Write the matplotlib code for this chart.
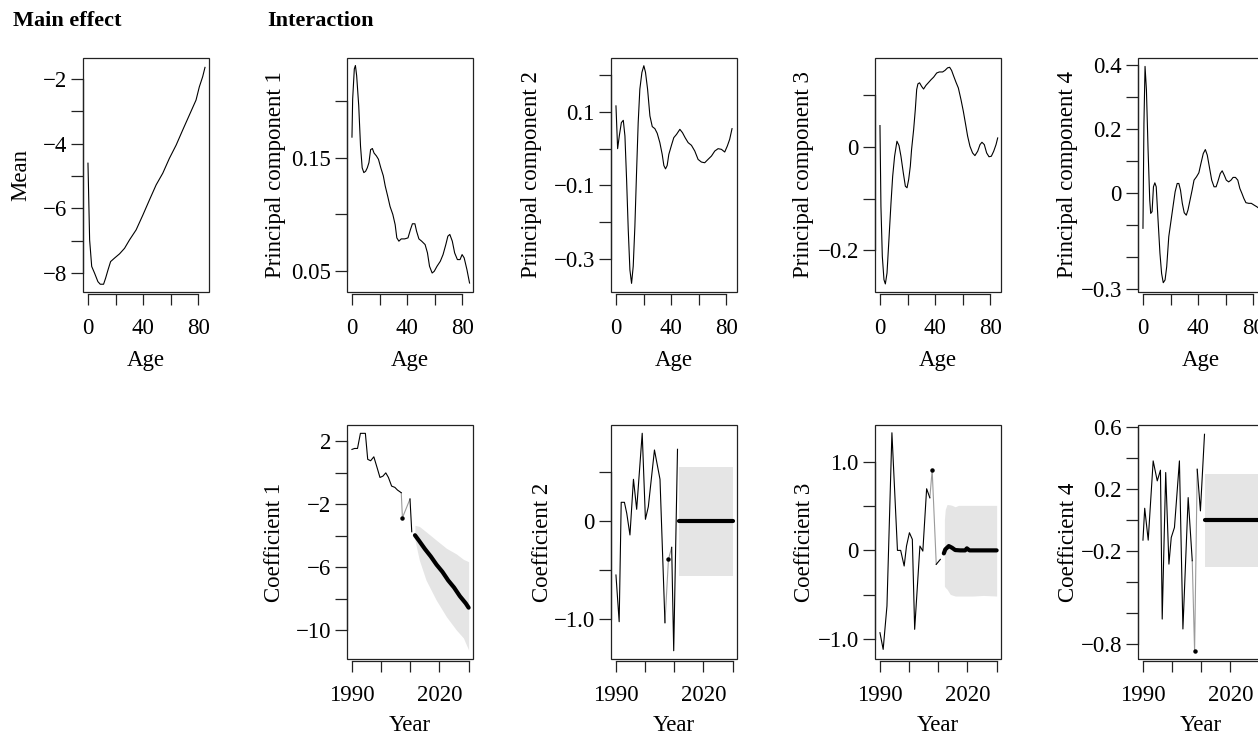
import matplotlib
matplotlib.use("Agg")
import matplotlib.pyplot as plt
from matplotlib.patches import Rectangle

# ------------------------------------------------------------
# Data
# ------------------------------------------------------------
# Main effect (mean log rate by age)
age_mean = [0, 1.2, 2.7, 4.8, 7.2, 8.9, 11.3, 12.8, 14.5, 16.4, 19.3, 22.9, 26.5, 30.1,
            34.9, 39.8, 44.6, 49.4, 54.2, 59.0, 63.9, 68.7, 73.5, 78.3, 80.7, 83.1, 84.8]
mean = [-4.60, -6.97, -7.79, -8.00, -8.26, -8.34, -8.34, -8.15, -7.90, -7.64, -7.53, -7.40,
        -7.23, -6.97, -6.66, -6.20, -5.73, -5.27, -4.91, -4.45, -4.04, -3.57, -3.11, -2.65,
        -2.24, -1.93, -1.64]

# Principal components
age_pc1 = [0, 0.5, 1.7, 2.5, 3.4, 4.9, 6.2, 7.4, 8.6, 9.9, 11.1, 12.3, 13.5, 14.8, 16, 17.7,
           19.2, 20.9, 22.7, 24.1, 25.9, 27.6, 29.6, 31.3, 32.5, 34, 35.7, 38.2, 40.6, 42.4,
           43.8, 45.6, 46.8, 48.5, 50.5, 53, 54.7, 56.2, 58.1, 59.6, 61.6, 64, 66, 68, 69.5,
           70.9, 72.7, 74.4, 76.4, 78.3, 79.8, 81.3, 83.3, 85.2]
pc1 = [0.168, 0.2015, 0.228, 0.231, 0.222, 0.1956, 0.160, 0.141, 0.1368, 0.138, 0.141, 0.1456,
       0.157, 0.158, 0.154, 0.1515, 0.1485, 0.141, 0.134, 0.125, 0.116, 0.107, 0.100, 0.091,
       0.0794, 0.0765, 0.0785, 0.0785, 0.0794, 0.0868, 0.0918, 0.0918, 0.0853, 0.0785, 0.0765,
       0.0735, 0.0662, 0.0544, 0.0485, 0.050, 0.0544, 0.0588, 0.0647, 0.0735, 0.0809, 0.0824,
       0.0765, 0.0662, 0.0603, 0.0603, 0.0647, 0.0618, 0.0515, 0.0397]

age_pc2 = [0, 1.2, 2.4, 3.9, 5.3, 6.5, 7.7, 8.9, 10.1, 11.3, 12.5, 13.7, 14.9, 16.1, 17.3,
           18.8, 20.2, 21.4, 22.9, 24.6, 26.3, 28.2, 29.9, 31.8, 33.5, 34.7, 35.9, 37.1, 38.3,
           40.2, 41.9, 43.9, 46.3, 48.2, 50.1, 52.3, 54.7, 57.1, 59.5, 61.9, 64.3, 66.7, 69.2,
           71.6, 74, 76.4, 78.8, 80.7, 82.4, 84.1]
pc2 = [0.1164, 0.0, 0.0344, 0.0708, 0.0772, 0.0344, -0.0845, -0.221, -0.330, -0.3665, -0.320,
       -0.2116, -0.0662, 0.0708, 0.162, 0.2075, 0.2257, 0.2075, 0.162, 0.089, 0.060, 0.0544,
       0.0417, 0.0164, -0.0155, -0.0458, -0.0549, -0.0458, -0.0155, 0.0091, 0.030, 0.039,
       0.0526, 0.0435, 0.030, 0.0164, 0.0091, -0.0064, -0.0292, -0.0364, -0.0383, -0.0292,
       -0.020, -0.0064, 0.0, -0.0018, -0.0091, 0.0073, 0.0255, 0.0545]

age_pc3 = [0, 0.7, 1.7, 2.9, 3.9, 5.1, 6.5, 8.0, 9.2, 10.6, 12.3, 13.8, 15.2, 16.9, 18.4, 19.6,
           20.8, 22, 22.9, 24.4, 25.6, 26.6, 27.5, 28.7, 30.2, 31.6, 33.3, 35, 37, 38.9, 41.1,
           43, 45.4, 47.1, 49, 50.5, 51.9, 53.4, 55.1, 56.8, 58.7, 60.4, 62.1, 63.5, 65.2, 67.1,
           68.8, 70.8, 72.5, 73.9, 75.6, 77.3, 79, 80.7, 82.4, 84.1, 85.3]
pc3 = [0.0413, -0.115, -0.2116, -0.2568, -0.265, -0.244, -0.179, -0.108, -0.057, -0.018, 0.011,
       0.0026, -0.018, -0.050, -0.076, -0.079, -0.063, -0.037, -0.005, 0.0335, 0.072, 0.111,
       0.122, 0.124, 0.117, 0.112, 0.119, 0.124, 0.130, 0.135, 0.143, 0.145, 0.145, 0.148,
       0.153, 0.154, 0.148, 0.137, 0.125, 0.114, 0.0916, 0.069, 0.043, 0.021, 0.0013, -0.0116,
       -0.0168, -0.0084, 0.0045, 0.009, 0.0045, -0.0116, -0.019, -0.018, -0.0084, 0.0045, 0.0174]

age_pc4 = [0, 0.7, 1.5, 2.5, 3.7, 4.9, 5.6, 6.6, 7.6, 8.6, 9.6, 10.8, 12.3, 13.5, 14.7, 16,
           17.2, 18.7, 20.4, 22.1, 23.3, 24.8, 26, 27.2, 28.5, 29.9, 31.4, 32.6, 34.1, 35.6, 37,
           38.8, 40.5, 42, 43.7, 45.2, 46.6, 48.1, 49.8, 51.5, 53, 54.2, 56, 57.4, 58.9, 60.4,
           62.1, 63.8, 65.3, 67, 68.7, 70.2, 71.7, 73.1, 74.6, 76.6, 78.5, 80.5, 82.5, 84.2, 85.4]
pc4 = [-0.111, 0.2156, 0.3948, 0.322, 0.134, -0.023, -0.0645, -0.059, 0.0187, 0.031, 0.0187,
       -0.075, -0.189, -0.252, -0.281, -0.2725, -0.231, -0.137, -0.085, -0.033, 0.003, 0.029,
       0.029, 0.008, -0.033, -0.0625, -0.070, -0.054, -0.023, 0.008, 0.0395, 0.050, 0.0624,
       0.0915, 0.1227, 0.135, 0.1175, 0.081, 0.0395, 0.0187, 0.0187, 0.034, 0.060, 0.0686,
       0.055, 0.0395, 0.034, 0.0395, 0.048, 0.048, 0.0395, 0.0135, -0.002, -0.0177, -0.031,
       -0.033, -0.033, -0.0385, -0.0437, -0.049, -0.059]

# Coefficients: history (one outlying year drawn in grey), forecast, interval
yr_c1 = [1990, 1990.9, 1991.9, 1992.9, 1994.6, 1995.4, 1996.4, 1997.5, 1998.7, 1999.6, 2000.6,
         2001.6, 2002.5, 2003.6, 2004.7, 2005.6, 2006.9, 2007.3, 2009.9, 2010.5]
c1 = [1.47, 1.53, 1.53, 2.49, 2.49, 0.84, 0.75, 1.0, 0.26, -0.31, -0.23, -0.02, -0.31, -0.86,
      -0.94, -1.11, -1.28, -2.87, -1.68, -3.76]
fc_yr_c1 = [2011.6, 2013, 2015, 2017, 2019, 2021, 2023, 2025, 2027, 2029, 2030]
fc_c1 = [-3.98, -4.33, -4.85, -5.32, -5.85, -6.30, -6.85, -7.30, -7.85, -8.30, -8.58]
pi_yr_c1 = [2011.6, 2013.1, 2015.4, 2018.9, 2022.4, 2025.8, 2028.2, 2030]
pi_hi_c1 = [-3.35, -3.42, -3.76, -4.29, -4.81, -5.17, -5.51, -5.66]
pi_lo_c1 = [-4.29, -5.56, -6.83, -8.1, -9.16, -10.0, -10.5, -11.27]

yr_c2 = [1990, 1991.1, 1991.8, 1992.9, 1993.7, 1994.8, 1996.0, 1997.1, 1999.0, 2000.1, 2001.1,
         2003.2, 2005.1, 2006.8, 2008.0, 2009.1, 2009.8, 2011.1]
c2 = [-0.549, -1.024, 0.19, 0.19, 0.078, -0.142, 0.424, 0.119, 0.892, 0.017, 0.146, 0.722,
      0.424, -1.034, -0.39, -0.268, -1.319, 0.729]
fc_yr_c2 = [2011.6, 2015, 2020, 2025, 2030]
fc_c2 = [0.0, 0.0, 0.0, 0.0, 0.0]
pi_yr_c2 = [2011.6, 2030]
pi_hi_c2 = [0.546, 0.546]
pi_lo_c2 = [-0.556, -0.556]

yr_c3 = [1990, 1991.1, 1992.4, 1994.1, 1996.0, 1997.1, 1998.3, 1999.1, 2000.1, 2001.1, 2001.9,
         2003.7, 2004.7, 2006.0, 2007.1, 2007.9, 2009.3, 2010.7]
c3 = [-0.932, -1.121, -0.63, 1.332, 0.0, 0.0, -0.177, 0.049, 0.2, 0.125, -0.894, 0.049, -0.008,
      0.698, 0.596, 0.909, -0.158, -0.102]
fc_yr_c3 = [2011.9, 2012.4, 2013.6, 2014.7, 2015.8, 2017.5, 2019.2, 2019.8, 2020.7, 2030]
fc_c3 = [-0.034, 0.011, 0.049, 0.03, 0.004, 0.0, 0.0, 0.023, 0.0, 0.0]
pi_yr_c3 = [2012.1, 2012.4, 2013.0, 2014.1, 2014.7, 2015.8, 2016.9, 2022.0, 2025.4, 2030]
pi_hi_c3 = [0.351, 0.464, 0.52, 0.515, 0.51, 0.494, 0.51, 0.51, 0.51, 0.51]
pi_lo_c3 = [-0.404, -0.42, -0.44, -0.498, -0.505, -0.517, -0.517, -0.517, -0.51, -0.517]

yr_c4 = [1990, 1990.6, 1991.8, 1993.5, 1994.9, 1996.0, 1996.6, 1997.8, 1998.9, 1999.7, 2000.8,
         2002.5, 2003.7, 2005.5, 2006.9, 2007.7, 2008.6, 2009.7, 2011.1]
c4 = [-0.129, 0.077, -0.129, 0.383, 0.254, 0.323, -0.639, 0.308, -0.284, -0.112, -0.047, 0.383,
      -0.703, 0.146, -0.262, -0.847, 0.329, 0.060, 0.555]
fc_yr_c4 = [2011.4, 2015, 2020, 2025, 2030]
fc_c4 = [0.0, 0.0, 0.0, 0.0, 0.0]
pi_yr_c4 = [2011.4, 2030]
pi_hi_c4 = [0.301, 0.301]
pi_lo_c4 = [-0.305, -0.305]

# index of the outlying (grey) year in each coefficient series
grey_idx = [17, 14, 15, 15]

# ------------------------------------------------------------
# Layout / style
# ------------------------------------------------------------
W, H = 1258, 734
plt.rcParams["font.family"] = ["Liberation Serif", "DejaVu Serif"]
plt.rcParams["font.size"] = 16.5
MINUS = "\u2212"
AX_COL = "#222222"
BAND = "#e5e5e5"
GREY_SEG = "#9a9a9a"

BOX_W, BOX_H = 126, 234
COL_LEFT = [83, 347, 611, 875, 1138]
TOP_ROW, BOT_ROW = 58, 425

fig = plt.figure(figsize=(W / 100, H / 100), dpi=100)


def lab(v, dec):
    if abs(v) < 1e-12:
        return "0"
    s = f"{abs(v):.{dec}f}" if dec > 0 else f"{abs(v):.0f}"
    return (MINUS if v < 0 else "") + s


def make_axes(col, top, xlim, ylim, xticks, xshow, yticks, yshow, ydec):
    ax = fig.add_axes([COL_LEFT[col] / W, 1 - (top + BOX_H) / H, BOX_W / W, BOX_H / H])
    ax.set_xlim(xlim)
    ax.set_ylim(ylim)
    ax.spines["top"].set_visible(False)
    ax.spines["right"].set_visible(False)
    ax.spines["left"].set_bounds(yticks[0], yticks[-1])
    ax.spines["bottom"].set_position(("outward", 1.5))
    ax.spines["bottom"].set_bounds(xticks[0], xticks[-1])
    for s in ("left", "bottom"):
        ax.spines[s].set_linewidth(0.9)
        ax.spines[s].set_color(AX_COL)
    ax.add_patch(Rectangle((0, 0), 1, 1, transform=ax.transAxes, fill=False,
                           lw=0.9, ec=AX_COL, clip_on=False, zorder=5))
    ax.set_xticks(xticks)
    ax.set_xticklabels([str(v) if v in xshow else "" for v in xticks])
    ax.set_yticks(yticks)
    ax.set_yticklabels([lab(v, ydec) if any(abs(v - s) < 1e-9 for s in yshow) else ""
                        for v in yticks])
    ax.tick_params(axis="x", length=7.8, width=0.9, color=AX_COL, pad=9.5)
    ax.tick_params(axis="y", length=8.4, width=0.9, color=AX_COL, pad=3.2)
    ax.patch.set_visible(False)
    return ax


def ylab(x_px, top, text):
    fig.text(x_px / W, 1 - (top + BOX_H / 2) / H, text, rotation=90,
             ha="center", va="center")


def xlab(col, y_px, text):
    fig.text((COL_LEFT[col] + BOX_W / 2) / W, 1 - y_px / H, text,
             ha="center", va="baseline")


# headers
fig.text(13 / W, 1 - 26 / H, "Main effect", fontweight="bold", va="baseline", fontsize=16)
fig.text(267 / W, 1 - 26 / H, "Interaction", fontweight="bold", va="baseline", fontsize=16)

# ---------------- top row ----------------
age_xlim = (-3.6, 87.7)
age_ticks = [0, 20, 40, 60, 80]
age_show = [0, 40, 80]

top_specs = [
    (age_mean, mean, (-8.58, -1.35), [-8, -7, -6, -5, -4, -3, -2], [-8, -6, -4, -2], 0,
     21, "Mean"),
    (age_pc1, pc1, (0.0318, 0.2376), [0.05, 0.10, 0.15, 0.20], [0.05, 0.15], 2,
     276, "Principal component 1"),
    (age_pc2, pc2, (-0.390, 0.2467), [-0.3, -0.2, -0.1, 0.0, 0.1, 0.2], [-0.3, -0.1, 0.1], 1,
     532, "Principal component 2"),
    (age_pc3, pc3, (-0.2806, 0.172), [-0.2, -0.1, 0.0, 0.1], [-0.2, 0.0], 1,
     803, "Principal component 3"),
    (age_pc4, pc4, (-0.31, 0.421), [-0.3, -0.2, -0.1, 0.0, 0.1, 0.2, 0.3, 0.4],
     [-0.3, 0.0, 0.2, 0.4], 1, 1067, "Principal component 4"),
]

for col, (xs, ys, ylim, yt, ys_show, dec, lx, text) in enumerate(top_specs):
    ax = make_axes(col, TOP_ROW, age_xlim, ylim, age_ticks, age_show, yt, ys_show, dec)
    ax.plot(xs, ys, color="black", lw=0.8)
    ylab(lx, TOP_ROW, text)
    xlab(col, 366, "Age")

# ---------------- bottom row ----------------
yr_xlim = (1988.3, 2031.5)
yr_ticks = [1990, 2000, 2010, 2020, 2030]
yr_show = [1990, 2020]

bot_specs = [
    (yr_c1, c1, fc_yr_c1, fc_c1, pi_yr_c1, pi_hi_c1, pi_lo_c1, (-11.84, 3.02),
     [-10, -8, -6, -4, -2, 0, 2], [-10, -6, -2, 2], 0, 275, "Coefficient 1"),
    (yr_c2, c2, fc_yr_c2, fc_c2, pi_yr_c2, pi_hi_c2, pi_lo_c2, (-1.403, 0.976),
     [-1.0, -0.5, 0.0, 0.5], [-1.0, 0.0], 1, 543, "Coefficient 2"),
    (yr_c3, c3, fc_yr_c3, fc_c3, pi_yr_c3, pi_hi_c3, pi_lo_c3, (-1.23, 1.42),
     [-1.0, -0.5, 0.0, 0.5, 1.0], [-1.0, 0.0, 1.0], 1, 804, "Coefficient 3"),
    (yr_c4, c4, fc_yr_c4, fc_c4, pi_yr_c4, pi_hi_c4, pi_lo_c4, (-0.897, 0.615),
     [-0.8, -0.6, -0.4, -0.2, 0.0, 0.2, 0.4, 0.6], [-0.8, -0.2, 0.2, 0.6], 1,
     1068, "Coefficient 4"),
]

for i, (hx, hy, fx, fy, px, phi, plo, ylim, yt, ys_show, dec, lx, text) in enumerate(bot_specs):
    col = i + 1
    ax = make_axes(col, BOT_ROW, yr_xlim, ylim, yr_ticks, yr_show, yt, ys_show, dec)
    ax.fill_between(px, plo, phi, color=BAND, lw=0, zorder=1)
    k = grey_idx[i]
    ax.plot(hx[:k], hy[:k], color="black", lw=0.8, zorder=3)
    ax.plot(hx[k - 1:k + 2], hy[k - 1:k + 2], color=GREY_SEG, lw=0.8, zorder=2)
    ax.plot(hx[k + 1:], hy[k + 1:], color="black", lw=0.8, zorder=3)
    ax.plot([hx[k]], [hy[k]], marker="o", ms=2.2, color="black", zorder=4)
    ax.plot(fx, fy, color="black", lw=3.0, solid_capstyle="round", zorder=3)
    ylab(lx, BOT_ROW, text)
    xlab(col, 731, "Year")

fig.savefig("out.png", dpi=100)
